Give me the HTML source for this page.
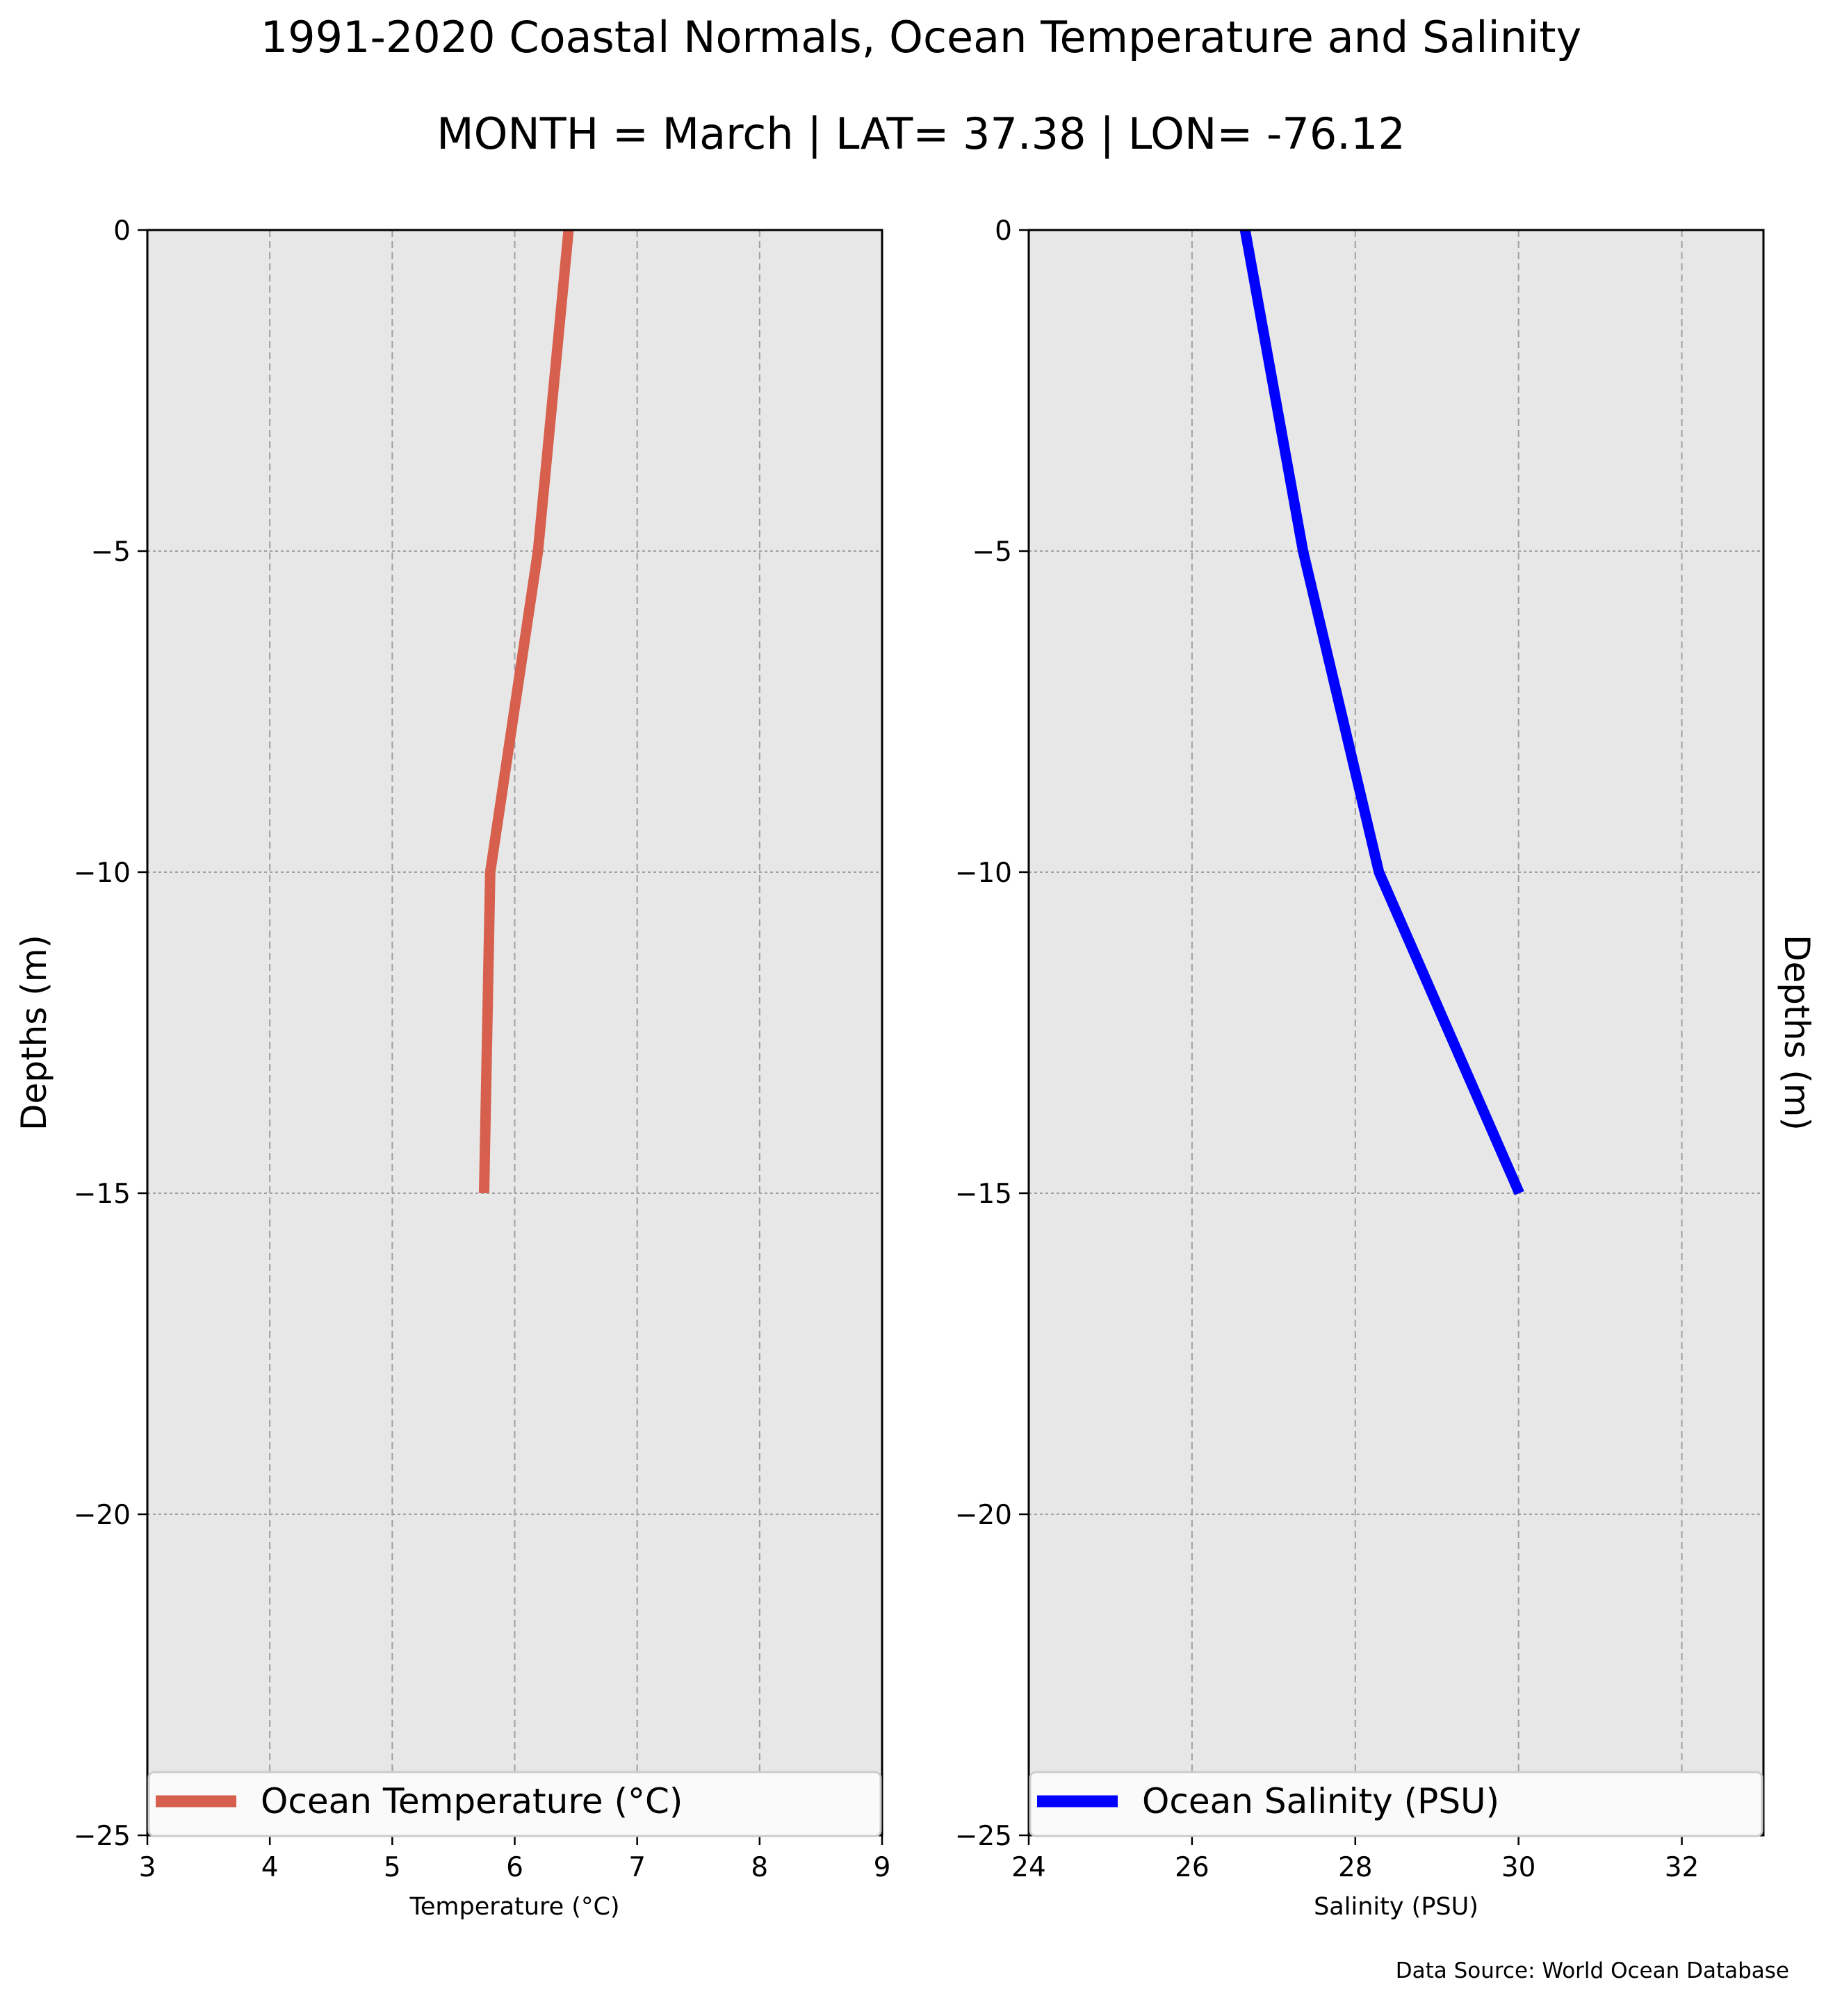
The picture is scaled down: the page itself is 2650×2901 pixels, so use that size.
<!DOCTYPE html>
<html><head><meta charset="utf-8"><style>
html,body{margin:0;padding:0;background:#fff}
svg{display:block;font-family:"DejaVu Sans","Liberation Sans",sans-serif}
</style></head><body>
<svg id="chart" width="2650" height="2901" viewBox="0 0 2650 2901" xmlns="http://www.w3.org/2000/svg">
<text x="1325" y="75" font-size="62" text-anchor="middle">1991-2020 Coastal Normals, Ocean Temperature and Salinity</text>
<text x="1325" y="214" font-size="62" text-anchor="middle">MONTH = March | LAT= 37.38 | LON= -76.12</text>
<g id="left"></g>
<g id="right"></g>
<text x="2574" y="2846" font-size="31" text-anchor="end">Data Source: World Ocean Database</text>
</svg>
<script>
const depths = [0, -5, -10, -15];
const temperature = [6.44, 6.19, 5.80, 5.75];
const salinity = [26.65, 27.36, 28.29, 30.01];
const tempTicks = [3, 4, 5, 6, 7, 8, 9];
const salTicks = [24, 26, 28, 30, 32];
const depthTicks = [0, -5, -10, -15, -20, -25];
const depthTickLabels = ["0", "\u22125", "\u221210", "\u221215", "\u221220", "\u221225"];

const NS = "http://www.w3.org/2000/svg";
function mk(tag, attrs, parent) {
  const e = document.createElementNS(NS, tag);
  for (const k in attrs) e.setAttribute(k, attrs[k]);
  parent.appendChild(e);
  return e;
}
const top0 = 331, bot0 = 2641;
function yScale(d) { return top0 + (0 - d) / 25 * (bot0 - top0); }

function panel(g, x0, x1, xmin, xmax, xticks, xs, color, legendText, xlabel, ylabelSide, nm) {
  const xScale = v => x0 + (v - xmin) / (xmax - xmin) * (x1 - x0);
  const bg = mk('rect', {x: x0, y: top0, width: x1 - x0, height: bot0 - top0, fill: '#e7e7e7'}, g);
  
  
  xticks.forEach(t => {
    const l = mk('line', {x1: xScale(t), x2: xScale(t), y1: top0, y2: bot0, stroke: '#a0a0a0', 'stroke-width': 2, 'stroke-dasharray': '10,6'}, g);
    
    
    const tk = mk('line', {x1: xScale(t), x2: xScale(t), y1: bot0, y2: bot0 + 14, stroke: '#000', 'stroke-width': 2.5}, g);
    
    
    const tl = mk('text', {x: xScale(t), y: 2700, 'font-size': 39, 'text-anchor': 'middle'}, g);
    tl.textContent = String(t);
    
    
  });
  depthTicks.forEach((d, i) => {
    const l = mk('line', {x1: x0, x2: x1, y1: yScale(d), y2: yScale(d), stroke: '#a0a0a0', 'stroke-width': 2, 'stroke-dasharray': '4,4'}, g);
    
    
    const tk = mk('line', {x1: x0 - 14, x2: x0, y1: yScale(d), y2: yScale(d), stroke: '#000', 'stroke-width': 2.5}, g);
    
    
    const tl = mk('text', {x: x0 - 24, y: yScale(d) + 14, 'font-size': 39, 'text-anchor': 'end'}, g);
    tl.textContent = depthTickLabels[i];
    
    
  });
  const pts = xs.map((v, i) => xScale(v) + ',' + yScale(depths[i])).join(' ');
  const pl = mk('polyline', {points: pts, fill: 'none', stroke: color, 'stroke-width': 15}, g);
  
  
  const fr = mk('rect', {x: x0, y: top0, width: x1 - x0, height: bot0 - top0, fill: 'none', stroke: '#000', 'stroke-width': 3}, g);
  
  
  // legend
  const lg = mk('g', {}, g);
  
  
  mk('rect', {x: x0 + 2, y: 2550, width: x1 - x0 - 4, height: 92, rx: 8, fill: '#fafafa', stroke: '#cccccc', 'stroke-width': 3}, lg);
  const h = mk('line', {x1: x0 + 12, x2: x0 + 128, y1: 2592, y2: 2592, stroke: color, 'stroke-width': 17}, lg);
  
  
  const lt = mk('text', {x: x0 + 163, y: 2609, 'font-size': 50}, lg);
  lt.textContent = legendText;
  
  
  const xl = mk('text', {x: (x0 + x1) / 2, y: 2755, 'font-size': 35, 'text-anchor': 'middle'}, g);
  xl.textContent = xlabel;
  
  
  const yc = (top0 + bot0) / 2;
  let yl;
  if (ylabelSide === 'left') {
    yl = mk('text', {x: 0, y: 0, 'font-size': 50, 'text-anchor': 'middle', transform: 'translate(66,' + yc + ') rotate(-90)'}, g);
  } else {
    yl = mk('text', {x: 0, y: 0, 'font-size': 50, 'text-anchor': 'middle', transform: 'translate(2568,' + yc + ') rotate(90)'}, g);
  }
  yl.textContent = 'Depths (m)';
  
  
}
panel(document.getElementById('left'), 212, 1269, 3, 9, tempTicks, temperature, '#d6604d', 'Ocean Temperature (\u00b0C)', 'Temperature (\u00b0C)', 'left', 'temperature');
panel(document.getElementById('right'), 1480, 2537, 24, 33, salTicks, salinity, '#0000ff', 'Ocean Salinity (PSU)', 'Salinity (PSU)', 'right', 'salinity');
</script>
</body></html>
